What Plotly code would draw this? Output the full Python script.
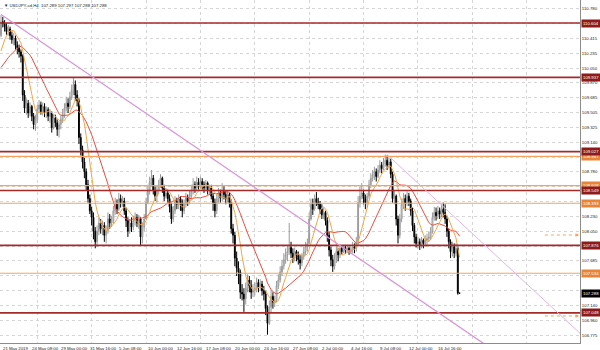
import plotly.graph_objects as go
import numpy as np

# ---------------- data ----------------
symbol_title = "USDJPY-cd,H4"
last_bar = [107.289, 107.297, 107.288, 107.288]   # O H L C of current bar

# closes of bars before the visible window (used only for moving averages)
warmup_closes = [109.90, 109.95, 109.88, 109.85, 109.92, 109.98, 109.90, 109.86, 109.92, 109.95,
                 109.88, 109.93, 109.97, 110.02, 110.05, 110.00, 110.08, 110.12, 110.20, 110.28,
                 110.35, 110.45]

closes = [
    110.62, 110.60, 110.56, 110.50, 110.53, 110.45, 110.40, 110.42, 110.33, 110.30,
    110.25, 110.20, 109.72, 109.56, 109.62, 109.50, 109.58, 109.46, 109.36, 109.42,
    109.55, 109.60, 109.52, 109.58, 109.50, 109.54, 109.46, 109.50, 109.32, 109.44,
    109.38, 109.30, 109.36, 109.42, 109.48, 109.56, 109.62, 109.58, 109.70, 109.78,
    109.85, 109.72, 109.65, 109.20, 109.05, 108.90, 108.78, 108.62, 108.45, 108.30,
    108.22, 108.05, 107.92, 108.05, 108.15, 108.08, 108.12, 108.00, 108.06, 108.20,
    108.15, 108.18, 108.30, 108.38, 108.32, 108.45, 108.40, 108.42, 108.30, 108.18,
    108.05, 108.15, 108.10, 108.18, 108.22, 108.15, 108.20, 107.98, 108.10, 108.20,
    108.40, 108.55, 108.65, 108.70, 108.55, 108.48, 108.55, 108.62, 108.70, 108.58,
    108.48, 108.52, 108.45, 108.35, 108.20, 108.30, 108.42, 108.38, 108.45, 108.40,
    108.30, 108.38, 108.46, 108.42, 108.48, 108.55, 108.62, 108.58, 108.65, 108.60,
    108.66, 108.62, 108.58, 108.64, 108.56, 108.58, 108.48, 108.40, 108.30, 108.45,
    108.52, 108.46, 108.55, 108.50, 108.45, 108.50, 108.40, 108.08, 108.00, 107.72,
    107.60, 107.55, 107.30, 107.28, 107.22, 107.35, 107.45, 107.38, 107.30, 107.32,
    107.35, 107.42, 107.36, 107.40, 107.32, 107.28, 107.10, 106.92, 107.12, 107.25,
    107.18, 107.20, 107.38, 107.45, 107.55, 107.62, 107.70, 107.76, 107.80, 107.85,
    107.78, 107.72, 107.80, 107.75, 107.70, 107.66, 107.74, 107.80, 107.86, 107.90,
    108.20, 108.38, 108.32, 108.45, 108.40, 108.38, 108.32, 108.25, 108.28, 108.18,
    108.00, 107.82, 107.70, 107.62, 107.72, 107.80, 107.76, 107.84, 107.80, 107.85,
    107.82, 107.84, 107.80, 107.82, 107.86, 107.84, 107.92, 108.40, 108.48, 108.52,
    108.45, 108.40, 108.48, 108.62, 108.70, 108.74, 108.78, 108.72, 108.80, 108.86,
    108.82, 108.88, 108.92, 108.86, 108.90, 108.75, 108.45, 108.48, 108.20, 108.00,
    108.20, 108.38, 108.45, 108.40, 108.48, 108.42, 108.30, 108.12, 107.98, 107.90,
    107.92, 107.88, 107.94, 107.90, 107.94, 107.96, 107.98, 108.05, 108.22, 108.28,
    108.24, 108.30, 108.26, 108.32, 108.28, 108.20, 108.05, 107.92, 107.80, 107.86,
    107.78, 107.84, 107.29]

highs = [
    110.70, 110.68, 110.64, 110.60, 110.58, 110.56, 110.50, 110.48, 110.45, 110.38,
    110.34, 110.28, 110.22, 109.78, 109.68, 109.66, 109.63, 109.60, 109.50, 109.48,
    109.60, 109.66, 109.64, 109.63, 109.62, 109.58, 109.57, 109.55, 109.52, 109.49,
    109.48, 109.42, 109.40, 109.47, 109.55, 109.62, 109.70, 109.68, 109.76, 109.85,
    109.93, 109.90, 109.78, 109.68, 109.25, 109.10, 108.95, 108.82, 108.68, 108.50,
    108.35, 108.28, 108.10, 108.12, 108.22, 108.20, 108.18, 108.16, 108.12, 108.28,
    108.26, 108.24, 108.36, 108.46, 108.44, 108.52, 108.50, 108.48, 108.46, 108.34,
    108.22, 108.20, 108.22, 108.24, 108.28, 108.26, 108.25, 108.22, 108.16, 108.26,
    108.46, 108.62, 108.72, 108.80, 108.74, 108.60, 108.60, 108.68, 108.75, 108.72,
    108.62, 108.58, 108.56, 108.50, 108.40, 108.36, 108.48, 108.46, 108.50, 108.48,
    108.44, 108.44, 108.52, 108.50, 108.55, 108.62, 108.70, 108.66, 108.72, 108.70,
    108.72, 108.70, 108.66, 108.68, 108.66, 108.62, 108.62, 108.52, 108.45, 108.50,
    108.58, 108.56, 108.64, 108.60, 108.55, 108.54, 108.52, 108.44, 108.14, 108.04,
    107.80, 107.68, 107.58, 107.40, 107.35, 107.42, 107.52, 107.50, 107.45, 107.40,
    107.42, 107.48, 107.46, 107.46, 107.44, 107.38, 107.32, 107.14, 107.20, 107.32,
    107.30, 107.26, 107.44, 107.52, 107.62, 107.70, 107.78, 107.84, 107.88, 108.15,
    107.92, 107.84, 107.85, 107.82, 107.80, 107.76, 107.78, 107.86, 107.92, 107.96,
    108.28, 108.45, 108.45, 108.50, 108.53, 108.46, 108.42, 108.38, 108.34, 108.30,
    108.22, 108.04, 107.86, 107.76, 107.78, 107.86, 107.84, 107.88, 107.88, 107.88,
    107.87, 107.88, 107.86, 107.86, 107.92, 107.90, 107.98, 108.48, 108.60, 108.64,
    108.56, 108.50, 108.52, 108.68, 108.76, 108.80, 108.84, 108.82, 108.86, 108.92,
    108.90, 108.95, 108.99, 108.98, 108.96, 108.94, 108.78, 108.55, 108.50, 108.24,
    108.26, 108.45, 108.52, 108.50, 108.54, 108.52, 108.45, 108.34, 108.15, 108.02,
    107.98, 107.96, 107.98, 107.96, 108.00, 108.02, 108.04, 108.10, 108.28, 108.35,
    108.34, 108.36, 108.34, 108.38, 108.40, 108.38, 108.24, 108.08, 107.95, 107.92,
    107.90, 107.90, 107.86]

lows = [
    110.43, 110.55, 110.50, 110.46, 110.45, 110.40, 110.35, 110.33, 110.28, 110.22,
    110.18, 110.12, 109.65, 109.50, 109.48, 109.44, 109.46, 109.40, 109.30, 109.28,
    109.38, 109.50, 109.48, 109.47, 109.45, 109.44, 109.40, 109.38, 109.26, 109.30,
    109.33, 109.22, 109.20, 109.30, 109.38, 109.44, 109.52, 109.50, 109.55, 109.66,
    109.72, 109.65, 109.58, 109.12, 108.98, 108.82, 108.70, 108.55, 108.40, 108.26,
    108.12, 107.95, 107.84, 107.86, 108.00, 108.02, 108.00, 107.92, 107.90, 108.02,
    108.08, 108.10, 108.14, 108.25, 108.26, 108.30, 108.34, 108.35, 108.25, 108.10,
    107.98, 108.02, 108.04, 108.06, 108.12, 108.10, 108.08, 107.88, 107.90, 108.05,
    108.22, 108.38, 108.50, 108.60, 108.50, 108.42, 108.40, 108.50, 108.58, 108.52,
    108.42, 108.45, 108.40, 108.28, 108.14, 108.16, 108.26, 108.32, 108.32, 108.30,
    108.22, 108.26, 108.34, 108.36, 108.38, 108.44, 108.50, 108.52, 108.54, 108.56,
    108.58, 108.56, 108.52, 108.54, 108.50, 108.50, 108.44, 108.30, 108.22, 108.26,
    108.40, 108.40, 108.42, 108.44, 108.38, 108.40, 108.34, 108.02, 107.90, 107.62,
    107.50, 107.40, 107.22, 107.20, 107.06, 107.15, 107.30, 107.30, 107.22, 107.24,
    107.26, 107.30, 107.30, 107.32, 107.26, 107.20, 107.02, 106.78, 106.90, 107.05,
    107.10, 107.12, 107.18, 107.34, 107.42, 107.50, 107.58, 107.65, 107.68, 107.76,
    107.72, 107.66, 107.68, 107.68, 107.64, 107.58, 107.62, 107.70, 107.76, 107.80,
    108.02, 108.18, 108.25, 108.30, 108.36, 108.32, 108.26, 108.20, 108.20, 108.12,
    107.92, 107.74, 107.62, 107.55, 107.58, 107.66, 107.68, 107.72, 107.76, 107.78,
    107.77, 107.78, 107.76, 107.77, 107.78, 107.78, 107.80, 107.88, 108.34, 108.44,
    108.38, 108.32, 108.34, 108.45, 108.58, 108.66, 108.68, 108.66, 108.70, 108.76,
    108.76, 108.80, 108.84, 108.80, 108.82, 108.70, 108.40, 108.38, 108.12, 107.90,
    107.96, 108.16, 108.32, 108.30, 108.36, 108.36, 108.24, 108.05, 107.90, 107.85,
    107.84, 107.82, 107.84, 107.84, 107.86, 107.88, 107.92, 107.94, 108.02, 108.18,
    108.18, 108.20, 108.20, 108.22, 108.22, 108.14, 107.98, 107.84, 107.72, 107.74,
    107.72, 107.74, 107.27]

fast_period = 8
slow_period = 21

x_label_bars = [0, 16, 32, 48, 64, 80, 96, 112, 128, 144, 160, 176, 192, 208, 224, 240]
x_label_text = ["21 May 2019", "24 May 08:00", "29 May 00:00", "31 May 16:00", "5 Jun 08:00",
                "10 Jun 00:00", "12 Jun 16:00", "17 Jun 08:00", "20 Jun 00:00", "24 Jun 16:00",
                "27 Jun 08:00", "2 Jul 00:00", "4 Jul 16:00", "9 Jul 08:00", "12 Jul 00:00",
                "16 Jul 16:00"]
x_grid_bars = [20, 50, 80, 110, 140, 170, 200, 230, 260, 290]

y_ticks = [110.780, 110.600, 110.415, 110.235, 110.050, 109.870, 109.685, 109.505, 109.325,
           109.140, 108.960, 108.780, 108.595, 108.415, 108.230, 108.050, 107.865, 107.685,
           107.505, 107.325, 107.140, 106.960, 106.775]
# tick labels hidden behind the price tags on the right scale
y_ticks_covered = [110.600, 108.960, 108.595, 108.415, 107.865, 107.505, 107.325]

red_levels = [110.604, 109.937, 109.027, 108.549, 107.876, 107.048]
orange_levels = [108.967, 108.608, 108.393, 107.534]
order_levels = [108.003, 107.010]

trend1_bars, trend1_prices = [0, 240], [110.71, 107.07]
trend2_bars, trend2_prices = [213, 246], [108.99, 108.31]

x_range = [-0.55, 319.4]
y_range = [106.678, 110.887]

# ---------------- build ----------------
all_closes = warmup_closes + closes + [last_bar[3]]
vis_closes = closes + [last_bar[3]]
vis_highs = highs + [last_bar[1]]
vis_lows = lows + [last_bar[2]]
vis_opens = [warmup_closes[-1]] + closes[:-1] + [last_bar[0]]
n = len(vis_closes)
bars = list(range(n))
w = len(warmup_closes)


def sma(vals, period, start):
    return [float(np.mean(vals[k - period + 1:k + 1])) for k in range(start, len(vals))]


ma_fast = sma(all_closes, fast_period, w)
ma_slow = sma(all_closes, slow_period, w)

FONT = "Liberation Sans"
FS = 4.3
RED = "#a52a2a"
ORANGE = "#f4a460"

fig = go.Figure()
fig.add_trace(go.Candlestick(
    x=bars, open=vis_opens, high=vis_highs, low=vis_lows, close=vis_closes,
    increasing=dict(line=dict(color="#9a9a9a", width=1), fillcolor="#ffffff"),
    decreasing=dict(line=dict(color="#000000", width=1), fillcolor="#000000"),
    whiskerwidth=0, hoverinfo="skip", showlegend=False))
fig.add_trace(go.Scatter(x=bars, y=ma_slow, mode="lines",
                         line=dict(color="#f2493c", width=1), hoverinfo="skip", showlegend=False))
fig.add_trace(go.Scatter(x=bars, y=ma_fast, mode="lines",
                         line=dict(color="#f7a443", width=1), hoverinfo="skip", showlegend=False))

shapes = []
for lv in orange_levels:
    shapes.append(dict(type="line", xref="paper", x0=0, x1=1, yref="y", y0=lv, y1=lv,
                       line=dict(color=ORANGE, width=1.2), layer="above"))
for lv in red_levels:
    shapes.append(dict(type="line", xref="paper", x0=0, x1=1, yref="y", y0=lv, y1=lv,
                       line=dict(color=RED, width=1.6), layer="above"))

# trend line 1 (extended to the right)
s1 = (trend1_prices[1] - trend1_prices[0]) / (trend1_bars[1] - trend1_bars[0])
shapes.append(dict(type="line", xref="x", yref="y", x0=trend1_bars[0], y0=trend1_prices[0],
                   x1=x_range[1], y1=trend1_prices[0] + s1 * (x_range[1] - trend1_bars[0]),
                   line=dict(color="#d996d9", width=1.3), layer="above"))
s2 = (trend2_prices[1] - trend2_prices[0]) / (trend2_bars[1] - trend2_bars[0])
shapes.append(dict(type="line", xref="x", yref="y", x0=trend2_bars[0], y0=trend2_prices[0],
                   x1=x_range[1], y1=trend2_prices[0] + s2 * (x_range[1] - trend2_bars[0]),
                   line=dict(color="#e6b4e6", width=1), layer="above"))

for lv in order_levels:
    shapes.append(dict(type="line", xref="x", yref="y", x0=300, x1=318.6, y0=lv, y1=lv,
                       line=dict(color=ORANGE, width=1, dash="dot"), layer="above"))

annotations = []
for lv in order_levels:
    annotations.append(dict(x=318.9, y=lv, xref="x", yref="y", ax=-4, ay=0, text="",
                            showarrow=True, arrowhead=2, arrowsize=0.7, arrowwidth=1,
                            arrowcolor=ORANGE))

for b, t in zip(x_label_bars, x_label_text):
    annotations.append(dict(x=b, y=0, xref="x", yref="paper", xanchor="left", yanchor="top",
                            text=t, showarrow=False, yshift=-0.5,
                            font=dict(family=FONT, size=FS, color="#1a1a1a")))


def price_label(v, bg):
    return dict(x=1, y=v, xref="paper", yref="y", xanchor="left", yanchor="middle",
                text=f"{v:.3f}", showarrow=False, xshift=0.5, bgcolor=bg, borderpad=1,
                font=dict(family=FONT, size=FS, color="#ffffff"))


for lv in orange_levels:
    annotations.append(price_label(lv, "#e8833a"))
for lv in red_levels:
    annotations.append(price_label(lv, "#8e1b1b"))
annotations.append(price_label(last_bar[3], "#000000"))

title_txt = "\u25BC " + symbol_title + "  " + " ".join(f"{v:.3f}" for v in last_bar)
annotations.append(dict(x=0, y=1, xref="paper", yref="paper", xanchor="left", yanchor="top",
                        text=title_txt, showarrow=False, xshift=1.5, yshift=-1,
                        font=dict(family=FONT, size=FS, color="#1a1a1a")))

y_ticktext = ["" if v in y_ticks_covered else f"{v:.3f}" for v in y_ticks]

fig.update_layout(
    width=600, height=350, margin=dict(l=0, r=20, t=0, b=7),
    paper_bgcolor="#ffffff", plot_bgcolor="#ffffff",
    showlegend=False, shapes=shapes, annotations=annotations,
    xaxis=dict(range=x_range, tickvals=x_grid_bars, showticklabels=False, ticks="",
               showgrid=True, gridcolor="#d6d6d6", griddash="dot", gridwidth=1,
               zeroline=False, showline=True, mirror=True, linecolor="#8c8c8c", linewidth=1,
               rangeslider=dict(visible=False), fixedrange=True),
    yaxis=dict(range=y_range, side="right", tickvals=y_ticks,
               ticktext=y_ticktext, ticks="",
               tickfont=dict(family=FONT, size=FS, color="#1a1a1a"),
               showgrid=True, gridcolor="#d6d6d6", griddash="dot", gridwidth=1,
               zeroline=False, showline=True, mirror=True, linecolor="#8c8c8c", linewidth=1,
               fixedrange=True),
)

fig.write_html("out.html")
